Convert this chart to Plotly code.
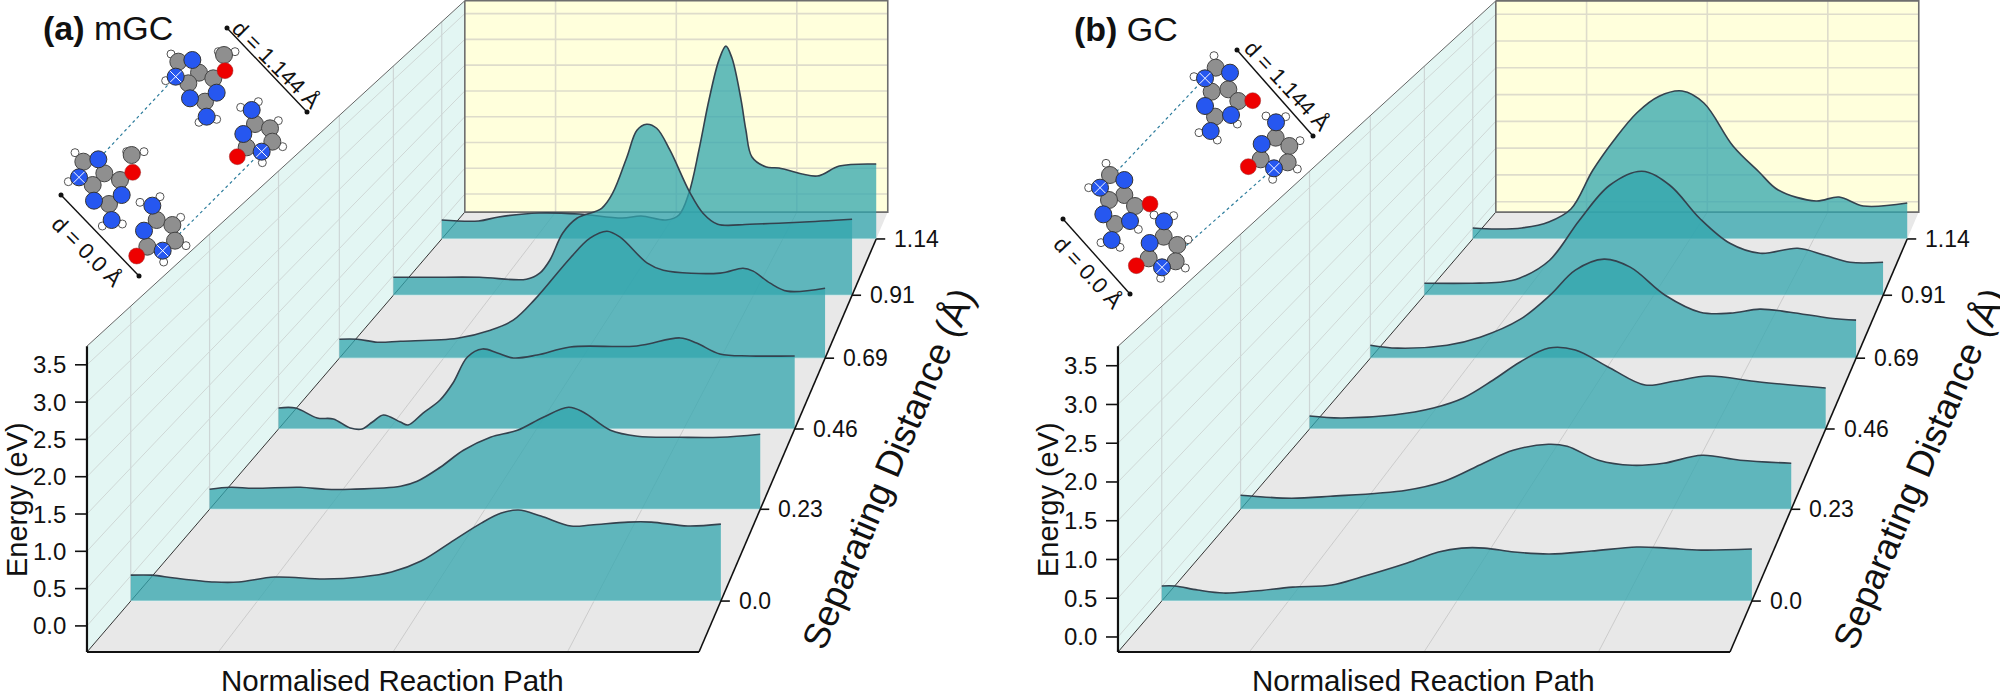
import plotly.graph_objects as go

# ---------- data ----------
DIST = [0.0, 0.2288, 0.4576, 0.6864, 0.9152, 1.144]
DIST_LABELS = ["0.0", "0.23", "0.46", "0.69", "0.91", "1.14"]
ENERGY_TICKS = [0.0, 0.5, 1.0, 1.5, 2.0, 2.5, 3.0, 3.5]
PATH_GRID = [0.2146, 0.5, 0.785]

A_T0 = [0, .036, .074, .142, .183, .244, .328, .391, .442, .492, .548, .594, .628, .657, .695, .746, .78, .843, .882, .944, 1]
A_E0 = [.01, .01, -.03, -.086, -.086, -.016, -.044, -.016, .053, .206, .498, .734, .873, .915, .832, .693, .707, .748, .748, .693, .72]
A_T1 = [0, .038, .08, .165, .211, .256, .347, .377, .419, .461, .51, .559, .606, .652, .679, .728, .777, .855, .927, 1]
A_E1 = [-.052, -.022, -.037, -.022, -.052, -.052, -.007, .067, .276, .529, .723, .827, 1.021, 1.17, 1.096, .827, .738, .723, .723, .768]
A_T2 = [0, .033, .075, .106, .139, .162, .182, .203, .236, .251, .28, .313, .338, .366, .395, .424, .455, .501, .565, .694, .778, .81, .855, .913, 1]
A_E2 = [-.016, -.016, -.175, -.191, -.334, -.35, -.239, -.127, -.239, -.286, -.096, .111, .381, .795, .922, .858, .779, .826, .954, .97, 1.097, 1.017, .842, .811, .811]
A_T3 = [0, .037, .078, .126, .243, .311, .358, .403, .475, .516, .551, .578, .634, .667, .784, .831, .852, .887, .922, 1]
A_E3 = [-.029, -.029, -.08, -.063, -.012, .123, .292, .647, 1.339, 1.677, 1.795, 1.694, 1.255, 1.136, 1.086, 1.17, 1.12, .917, .782, .832]
A_T4 = [0, .079, .188, .29, .319, .341, .369, .4, .454, .478, .509, .531, .552, .574, .603, .646, .675, .707, .777, .886, 1]
A_E4 = [-.028, -.028, -.028, -.064, .044, .276, .759, 1.027, 1.206, 1.475, 2.119, 2.602, 2.709, 2.637, 2.244, 1.493, 1.117, .92, .92, .956, 1.01]
A_T5 = [0, .085, .131, .224, .316, .415, .459, .516, .546, .569, .592, .615, .638, .654, .668, .689, .7, .714, .747, .776, .864, .915, 1]
A_E5 = [.008, -.01, .065, .141, .122, .046, .084, .008, .103, .518, 1.329, 2.273, 3.027, 3.292, 3.065, 2.273, 1.707, 1.197, 1.008, .99, .839, 1.027, 1.065]

B_T0 = [0, .022, .061, .105, .157, .222, .288, .338, .416, .469, .508, .547, .597, .657, .728, .805, .856, .914, 1]
B_E0 = [.007, .007, -.047, -.087, -.06, -.007, .02, .127, .315, .462, .515, .515, .462, .435, .475, .529, .515, .488, .502]
B_T1 = [0, .024, .093, .163, .301, .37, .441, .495, .559, .593, .65, .711, .768, .838, .907, 1]
B_E1 = [.007, -.008, -.036, -.008, .079, .208, .466, .652, .738, .71, .509, .437, .466, .58, .509, .466]
B_T2 = [0, .06, .162, .24, .298, .356, .408, .464, .515, .582, .65, .708, .772, .872, 1]
B_E2 = [.005, -.026, .02, .127, .28, .556, .831, 1.045, 1.015, .739, .479, .54, .617, .525, .433]
B_T3 = [0, .056, .158, .226, .309, .37, .422, .481, .535, .607, .679, .741, .802, .864, .947, 1]
B_E3 = [.017, -.031, .017, .147, .44, .83, 1.237, 1.416, 1.286, .83, .554, .538, .603, .554, .456, .424]
B_T4 = [0, .105, .164, .207, .273, .338, .404, .474, .535, .6, .666, .732, .814, .873, .928, 1]
B_E4 = [.013, .013, .03, .099, .409, 1.098, 1.7, 1.941, 1.7, 1.132, .701, .529, .615, .495, .374, .374]
B_T5 = [0, .053, .113, .175, .226, .276, .325, .378, .429, .482, .532, .599, .659, .703, .79, .843, .899, 1]
B_E5 = [.006, -.012, .006, .115, .35, 1.05, 1.6, 2.1, 2.4, 2.495, 2.277, 1.496, 1.024, .696, .497, .569, .406, .46]

# ---------- perspective frame (screen pixels) ----------
FRONT_Y, FRONT_L, FRONT_W = 652.0, 87.0, 612.0
VANISH_X, VANISH_Y = 1310.0, -772.0
E_TOP = 3.75
D_FRONT, D_BACK = -0.1143, 1.2625
TEAL = "rgba(49,165,173,0.75)"
CURVE = "#34424E"

fig = go.Figure()


def line(xs, ys, color, width, dash=None, shape="linear"):
    fig.add_trace(go.Scatter(x=xs, y=ys, mode="lines", hoverinfo="skip",
                             line=dict(color=color, width=width, dash=dash, shape=shape)))


def poly(xs, ys, color):
    fig.add_trace(go.Scatter(x=xs, y=ys, mode="lines", fill="toself", fillcolor=color,
                             line=dict(width=0), hoverinfo="skip"))


def label(x, y, text, size, angle=0, xanchor="center", yanchor="middle"):
    fig.add_annotation(x=x, y=y, xref="x", yref="y", text=text, showarrow=False, textangle=angle,
                       xanchor=xanchor, yanchor=yanchor, borderpad=0,
                       font=dict(family="Liberation Sans", size=size, color="#111111"))


def panel(off, e_min, px_ev, slices):
    xv = VANISH_X + off

    def P(t, e, d):
        s = 1.0 / (1.0371 + 0.3247 * d)
        x0 = FRONT_L + off + t * FRONT_W
        y0 = FRONT_Y - (e - e_min) * px_ev
        return xv + (x0 - xv) * s, VANISH_Y + (y0 - VANISH_Y) * s

    def seg(pts):
        p = [P(*q) for q in pts]
        return [a[0] for a in p], [a[1] for a in p]

    def multi(list_of_pts, color, width):
        xs, ys = [], []
        for pts in list_of_pts:
            a, b = seg(pts)
            xs += a + [None]
            ys += b + [None]
        line(xs, ys, color, width)

    # walls and floor
    poly(*seg([(0, e_min, D_FRONT), (1, e_min, D_FRONT), (1, e_min, D_BACK), (0, e_min, D_BACK)]), "#E8E8E8")
    poly(*seg([(0, e_min, D_FRONT), (0, E_TOP, D_FRONT), (0, E_TOP, D_BACK), (0, e_min, D_BACK)]), "#E3F6F3")
    poly(*seg([(0, e_min, D_BACK), (1, e_min, D_BACK), (1, E_TOP, D_BACK), (0, E_TOP, D_BACK)]), "#FFFFDC")

    # grids
    multi([[(0, e, D_FRONT), (0, e, D_BACK)] for e in ENERGY_TICKS], "#CFD8D6", 1)
    multi([[(0, e_min, d), (0, E_TOP, d)] for d in DIST], "#CDD6D6", 1.2)
    multi([[(0, e, D_BACK), (1, e, D_BACK)] for e in ENERGY_TICKS], "#DEDCCB", 1.6)
    multi([[(t, e_min, D_BACK), (t, E_TOP, D_BACK)] for t in PATH_GRID], "#DEDCCB", 1.6)
    multi([[(t, e_min, D_FRONT), (t, e_min, D_BACK)] for t in PATH_GRID], "#C4C4C4", 0.8)

    # frame
    multi([[(0, E_TOP, D_FRONT), (0, E_TOP, D_BACK)]], "#666666", 1)
    multi([[(0, e_min, D_FRONT), (0, e_min, D_BACK)]], "#333333", 1)
    multi([[(0, E_TOP, D_BACK), (1, E_TOP, D_BACK), (1, e_min, D_BACK), (0, e_min, D_BACK), (0, E_TOP, D_BACK)]], "#6E6E6E", 1.6)

    # slices, back to front
    for i in range(5, -1, -1):
        t, e = slices[i]
        d = DIST[i]
        bx, by = seg([(0, e_min, d), (1, e_min, d)])
        fig.add_trace(go.Scatter(x=bx, y=by, mode="lines", hoverinfo="skip",
                                 line=dict(color="rgba(225,240,240,0.8)", width=1)))
        tx, ty = seg([(a, b, d) for a, b in zip(t, e)])
        fig.add_trace(go.Scatter(x=tx, y=ty, mode="lines", fill="tonexty", fillcolor=TEAL, hoverinfo="skip",
                                 line=dict(color=CURVE, width=1.6, shape="spline", smoothing=1.0)))

    # axes
    multi([[(0, e_min, D_FRONT), (0, E_TOP, D_FRONT)], [(0, e_min, D_FRONT), (1, e_min, D_FRONT)]], "#111111", 2.2)
    multi([[(1, e_min, D_FRONT), (1, e_min, 1.144)]], "#111111", 1.6)
    xs, ys = [], []
    for e in ENERGY_TICKS:
        x, y = P(0, e, D_FRONT)
        xs += [x - 12, x, None]
        ys += [y, y, None]
        label(x - 20, y, f"{e:.1f}", 24, xanchor="right")
    for d, lab in zip(DIST, DIST_LABELS):
        x, y = P(1, e_min, d)
        xs += [x, x + 9, None]
        ys += [y, y, None]
        label(x + 17, y, lab, 23, xanchor="left")
    line(xs, ys, "#111111", 1.6)

    label(17 + off, 500, "Energy (eV)", 29, angle=-90)
    label(392 + off, 680, "Normalised Reaction Path", 29.5)
    label(888 + off, 468, "Separating Distance (Å)", 36.5, angle=-67)


panel(0, -0.35, 74.6, [(A_T0, A_E0), (A_T1, A_E1), (A_T2, A_E2), (A_T3, A_E3), (A_T4, A_E4), (A_T5, A_E5)])
panel(1031, -0.194, 77.5, [(B_T0, B_E0), (B_T1, B_E1), (B_T2, B_E2), (B_T3, B_E3), (B_T4, B_E4), (B_T5, B_E5)])

# ---------- molecule insets ----------
MG_GRAY = [(535, 185), (597, 218), (640, 235), (565, 250), (615, 305), (672, 165)]
MG_BLUE = [(577, 180), (650, 278), (570, 295), (620, 350)]
MG_RED = [(675, 212)]
MG_WHITE = [(513, 162), (497, 242), (655, 155), (705, 155), (597, 367), (650, 358)]
MG_PLUS = [(527, 230)]
MC_GRAY = [(765, 372), (810, 385), (817, 425), (740, 442)]
MC_BLUE = [(755, 330), (730, 402)]
MC_RED = [(712, 470)]
MC_WHITE = [(722, 322), (775, 305), (835, 362), (848, 440), (787, 488)]
MC_PLUS = [(785, 455)]
MG2_GRAY = [(250, 485), (313, 520), (360, 540), (278, 555), (327, 612), (395, 465)]
MG2_BLUE = [(295, 478), (365, 585), (282, 602), (335, 660)]
MG2_RED = [(398, 517)]
MG2_WHITE = [(225, 458), (205, 545), (380, 455), (432, 455), (307, 678), (367, 672)]
MG2_PLUS = [(237, 532)]
MC2_GRAY = [(470, 660), (517, 675), (525, 722), (442, 740)]
MC2_BLUE = [(457, 617), (432, 692)]
MC2_RED = [(410, 768)]
MC2_WHITE = [(420, 607), (480, 590), (542, 652), (558, 737), (491, 786)]
MC2_PLUS = [(488, 752)]
G_GRAY = [(197, 203), (235, 268), (185, 275), (265, 303), (195, 350)]
G_BLUE = [(240, 218), (165, 318), (243, 345), (182, 393)]
G_RED = [(308, 302)]
G_WHITE = [(192, 167), (132, 230), (262, 372), (147, 398), (202, 420)]
G_PLUS = [(165, 235)]
C_GRAY = [(377, 413), (418, 438), (413, 487), (332, 478)]
C_BLUE = [(378, 367), (335, 432)]
C_RED = [(295, 500)]
C_WHITE = [(348, 348), (407, 350), (450, 422), (442, 507), (368, 538)]
C_PLUS = [(372, 505)]
G2_GRAY = [(930, 525), (973, 585), (927, 600), (1005, 618), (945, 672)]
G2_BLUE = [(973, 540), (910, 643), (990, 663), (935, 720)]
G2_RED = [(1050, 612)]
G2_WHITE = [(918, 490), (866, 563), (1015, 688), (903, 728), (960, 742)]
G2_PLUS = [(900, 563)]


def molecule(ox, oy, white, gray, blue, plus, red):
    def put(pts, color, size, edge, lw=1, symbol="circle"):
        fig.add_trace(go.Scatter(x=[ox + p[0] / 3 for p in pts], y=[oy + p[1] / 3 for p in pts],
                                 mode="markers", hoverinfo="skip",
                                 marker=dict(symbol=symbol, size=size, color=color,
                                             line=dict(color=edge, width=lw))))
    put(white, "#FFFFFF", 8, "#555555")
    put(gray, "#8F8F8F", 17, "#444444")
    put(blue + plus, "#2657F0", 17, "#333333")
    put(red, "#EE0000", 16, "#993333", 0.5)
    put(plus, "#FFFFFF", 11, "#FFFFFF", 1, "x-thin")


line([527 / 3, 295 / 3, None, 785 / 3, 488 / 3], [230 / 3, 478 / 3, None, 455 / 3, 752 / 3], "#2C7C9C", 1.2, "3px,3px")
line([1205, 1102, None, 1274, 1162], [78, 187, None, 168, 267], "#2C7C9C", 1.2, "3px,3px")
molecule(0, 0, MG_WHITE, MG_GRAY, MG_BLUE, MG_PLUS, MG_RED)
molecule(0, 0, MC_WHITE, MC_GRAY, MC_BLUE, MC_PLUS, MC_RED)
molecule(0, 0, MG2_WHITE, MG2_GRAY, MG2_BLUE, MG2_PLUS, MG2_RED)
molecule(0, 0, MC2_WHITE, MC2_GRAY, MC2_BLUE, MC2_PLUS, MC2_RED)
molecule(1150, 0, G_WHITE, G_GRAY, G_BLUE, G_PLUS, G_RED)
molecule(1150, 0, C_WHITE, C_GRAY, C_BLUE, C_PLUS, C_RED)
molecule(800, 0, G2_WHITE, G2_GRAY, G2_BLUE, G2_PLUS, G2_RED)
molecule(1150 - 112, 99, C_WHITE, C_GRAY, C_BLUE, C_PLUS, C_RED)

# distance brackets
for x0, y0, x1, y1 in [(227, 28, 307, 112), (61, 195, 139, 276), (1237, 50, 1313, 136), (1063, 219, 1130, 294)]:
    fig.add_trace(go.Scatter(x=[x0, x1], y=[y0, y1], mode="lines+markers", hoverinfo="skip",
                             line=dict(color="#111111", width=1.4),
                             marker=dict(size=5, color="#111111")))
label(276, 64, "d = 1.144 Å", 22, angle=45)
label(87, 251, "d = 0.0 Å", 22, angle=45)
label(1287, 85, "d = 1.144 Å", 22, angle=47)
label(1088, 272, "d = 0.0 Å", 22, angle=47)

label(42, 28, "<b>(a)</b> mGC", 34, xanchor="left")
label(1073, 29, "<b>(b)</b> GC", 34, xanchor="left")

fig.update_layout(
    width=2000, height=698, showlegend=False,
    margin=dict(l=0, r=0, t=0, b=0),
    paper_bgcolor="#FFFFFF", plot_bgcolor="#FFFFFF",
    xaxis=dict(range=[0, 2000], visible=False, fixedrange=True),
    yaxis=dict(range=[698, 0], visible=False, fixedrange=True),
)
fig.write_html("out.html", config={"displayModeBar": False},
               post_script="document.body.style.margin='0';document.documentElement.style.overflow='hidden';")
